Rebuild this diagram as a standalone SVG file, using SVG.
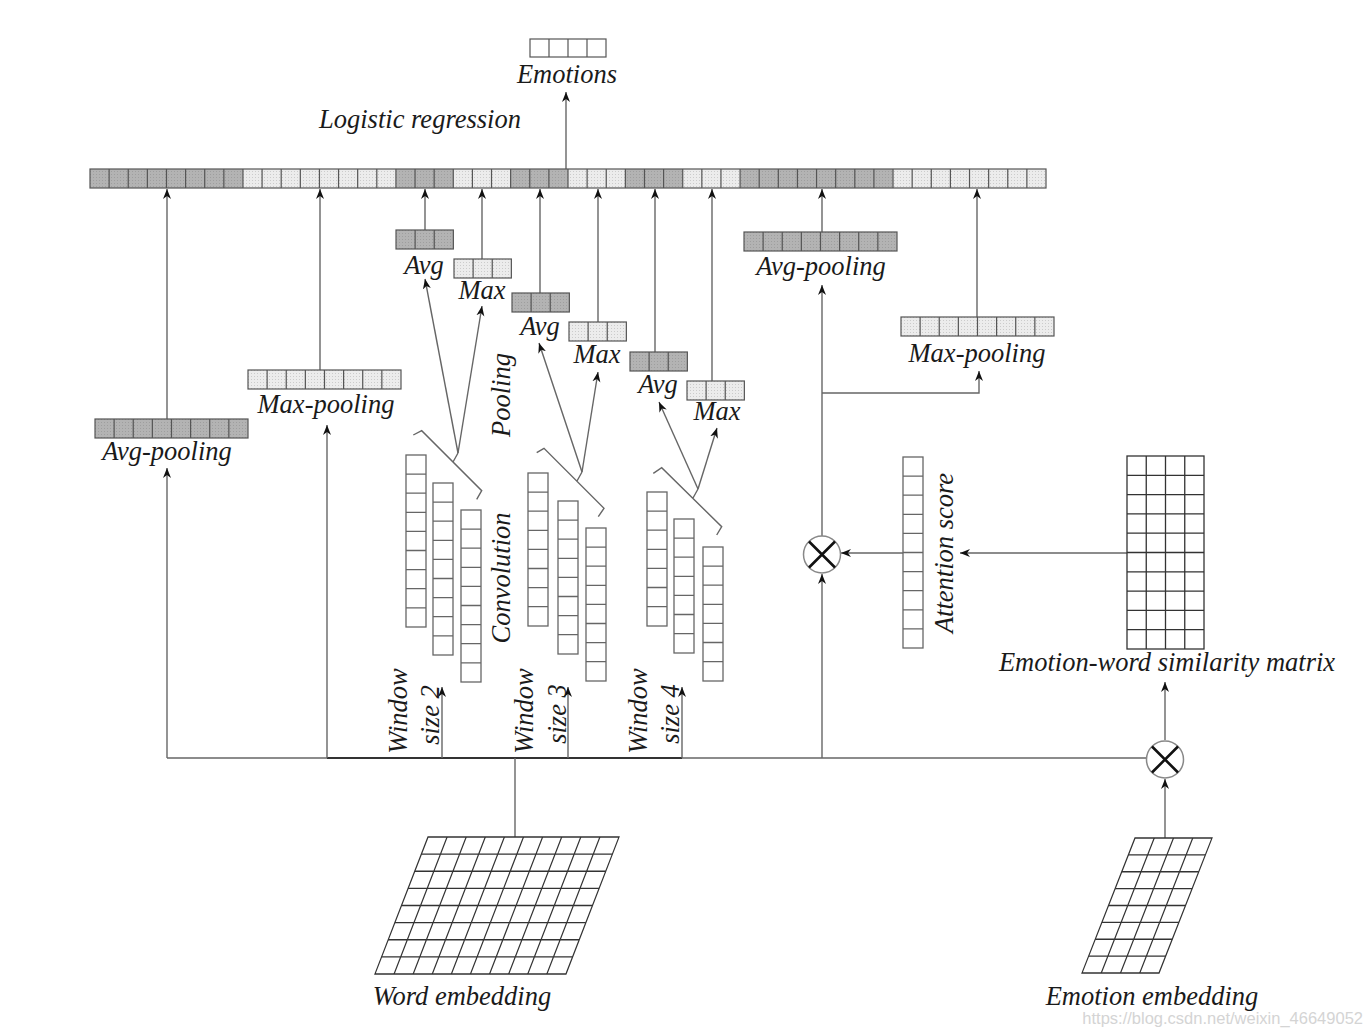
<svg xmlns="http://www.w3.org/2000/svg" xmlns:xlink="http://www.w3.org/1999/xlink" width="1372" height="1034" viewBox="0 0 1372 1034">
<style>
.t{font-family:"Liberation Serif","Times New Roman",serif;font-style:italic;font-size:26.5px;fill:#1a1a1a;text-anchor:middle}
.cell{stroke:#555;stroke-width:1.2}
.div{stroke:#555;stroke-width:1.2;fill:none}
.col{fill:#fff;stroke:#666;stroke-width:1.3}
.cdiv{stroke:#666;stroke-width:1.3;fill:none}
.grid{fill:none;stroke:#333;stroke-width:1.3}
.ln{fill:none;stroke:#666;stroke-width:1.4}
.ar{fill:none;stroke:#666;stroke-width:1.4;marker-end:url(#ah)}
.wm{font-family:"Liberation Sans",Arial,sans-serif;font-size:16.5px;fill:#d4d4d4;text-anchor:end}
</style>
<defs>
<marker id="ah" viewBox="0 0 10 10" refX="10" refY="5" markerWidth="10" markerHeight="10" markerUnits="userSpaceOnUse" orient="auto"><path d="M0,1 L10,5 L0,9 L3,5 z" fill="#111"/></marker>
<pattern id="pdark" width="3" height="3" patternUnits="userSpaceOnUse"><rect width="3" height="3" fill="#b3b3b3"/><rect width="1" height="1" fill="#9e9e9e"/></pattern>
<pattern id="plight" width="3" height="3" patternUnits="userSpaceOnUse"><rect width="3" height="3" fill="#ececec"/><rect width="1" height="1" fill="#cbcbcb"/></pattern>
<g id="b8d"><rect width="153" height="19" fill="url(#pdark)" class="cell"/><path class="div" d="M19.12,0v19M38.24,0v19M57.36,0v19M76.48,0v19M95.6,0v19M114.72,0v19M133.84,0v19"/></g>
<g id="b8l"><rect width="153" height="19" fill="url(#plight)" class="cell"/><path class="div" d="M19.12,0v19M38.24,0v19M57.36,0v19M76.48,0v19M95.6,0v19M114.72,0v19M133.84,0v19"/></g>
<g id="b3d"><rect width="57.36" height="19" fill="url(#pdark)" class="cell"/><path class="div" d="M19.12,0v19M38.24,0v19"/></g>
<g id="b3l"><rect width="57.36" height="19" fill="url(#plight)" class="cell"/><path class="div" d="M19.12,0v19M38.24,0v19"/></g>
<g id="c9"><rect width="20" height="172" class="col"/><path class="cdiv" d="M0,19.1h20M0,38.2h20M0,57.3h20M0,76.4h20M0,95.5h20M0,114.6h20M0,133.7h20M0,152.8h20"/></g>
<g id="c8"><rect width="20" height="153" class="col"/><path class="cdiv" d="M0,19.1h20M0,38.2h20M0,57.3h20M0,76.4h20M0,95.5h20M0,114.6h20M0,133.7h20"/></g>
<g id="c7"><rect width="20" height="134" class="col"/><path class="cdiv" d="M0,19.1h20M0,38.2h20M0,57.3h20M0,76.4h20M0,95.5h20M0,114.6h20"/></g>
<g id="c10"><rect width="20" height="191" class="col"/><path class="cdiv" d="M0,19.1h20M0,38.2h20M0,57.3h20M0,76.4h20M0,95.5h20M0,114.6h20M0,133.7h20M0,152.8h20M0,171.9h20"/></g>
</defs>
<rect width="1372" height="1034" fill="#fff"/>

<g id="connectors">
<path class="ar" d="M566,169V92"/>
<path class="ar" d="M167,419V189"/>
<path class="ar" d="M320,370V189"/>
<path class="ar" d="M425,230V189"/>
<path class="ar" d="M482,259V189"/>
<path class="ar" d="M540,293V189"/>
<path class="ar" d="M598,322V189"/>
<path class="ar" d="M655,352V189"/>
<path class="ar" d="M712,381V189"/>
<path class="ar" d="M822,232V189"/>
<path class="ar" d="M977,317V189"/>
<path class="ln" d="M167,758H1146"/>
<path d="M327,758H682" stroke="#333" stroke-width="2" fill="none"/>
<path class="ln" d="M515,758V837"/>
<path class="ar" d="M167,758V468"/>
<path class="ar" d="M327,758V425"/>
<path class="ar" d="M442,758V687"/>
<path class="ar" d="M568,758V687"/>
<path class="ar" d="M682,758V687"/>
<path class="ar" d="M822,758V574"/>
<path class="ar" d="M822,536V285"/>
<path class="ar" d="M822,393H979V371"/>
<path class="ar" d="M903,553H841"/>
<path class="ar" d="M1127,553H960"/>
<path class="ar" d="M1165,838V779"/>
<path class="ar" d="M1165,740V682"/>
<path class="ln" d="M413.3,435L421.7,430.7L481.7,490.7L476.7,499.3M453,462L458,453"/>
<path class="ln" d="M536.7,452.7L544,448.3L604,508.3L598.3,516.7M577,481L582,472"/>
<path class="ln" d="M653.3,473.3L661.7,467.7L721.7,526.7L716.7,535M693,498L698,489"/>
<path class="ar" d="M458,453L425,279"/>
<path class="ar" d="M458,453L482,306"/>
<path class="ar" d="M582,472L539,343"/>
<path class="ar" d="M582,472L598,372"/>
<path class="ar" d="M698,489L659,402"/>
<path class="ar" d="M698,489L717,428"/>
</g>

<g id="emotions">
<rect x="530" y="39" width="76" height="18" fill="#fff" class="cell"/>
<path class="div" d="M549,39v18M568,39v18M587,39v18"/>
<text class="t" x="567" y="83">Emotions</text>
</g>

<g id="logistic-regression">
<text class="t" x="420" y="128">Logistic regression</text>
</g>

<g id="concat-bar">
<rect x="90" y="169" width="152.96" height="19" fill="url(#pdark)"/>
<rect x="242.96" y="169" width="152.96" height="19" fill="url(#plight)"/>
<rect x="395.92" y="169" width="57.36" height="19" fill="url(#pdark)"/>
<rect x="453.28" y="169" width="57.36" height="19" fill="url(#plight)"/>
<rect x="510.64" y="169" width="57.36" height="19" fill="url(#pdark)"/>
<rect x="568" y="169" width="57.36" height="19" fill="url(#plight)"/>
<rect x="625.36" y="169" width="57.36" height="19" fill="url(#pdark)"/>
<rect x="682.72" y="169" width="57.36" height="19" fill="url(#plight)"/>
<rect x="740.08" y="169" width="152.96" height="19" fill="url(#pdark)"/>
<rect x="893.04" y="169" width="152.96" height="19" fill="url(#plight)"/>
<rect x="90" y="169" width="956" height="19" fill="none" class="cell"/>
<path class="div" d="M109.12,169v19M128.24,169v19M147.36,169v19M166.48,169v19M185.6,169v19M204.72,169v19M223.84,169v19M242.96,169v19M262.08,169v19M281.2,169v19M300.32,169v19M319.44,169v19M338.56,169v19M357.68,169v19M376.8,169v19M395.92,169v19M415.04,169v19M434.16,169v19M453.28,169v19M472.4,169v19M491.52,169v19M510.64,169v19M529.76,169v19M548.88,169v19M568,169v19M587.12,169v19M606.24,169v19M625.36,169v19M644.48,169v19M663.6,169v19M682.72,169v19M701.84,169v19M720.96,169v19M740.08,169v19M759.2,169v19M778.32,169v19M797.44,169v19M816.56,169v19M835.68,169v19M854.8,169v19M873.92,169v19M893.04,169v19M912.16,169v19M931.28,169v19M950.4,169v19M969.52,169v19M988.64,169v19M1007.76,169v19M1026.88,169v19"/>
</g>

<g id="avg-pooling-left"><use xlink:href="#b8d" x="95" y="419"/><text class="t" x="167" y="460">Avg-pooling</text></g>
<g id="max-pooling-left"><use xlink:href="#b8l" x="248" y="370"/><text class="t" x="326" y="413">Max-pooling</text></g>
<g id="avg-w2"><use xlink:href="#b3d" x="396" y="230"/><text class="t" x="424" y="274">Avg</text></g>
<g id="max-w2"><use xlink:href="#b3l" x="454" y="259"/><text class="t" x="482" y="299">Max</text></g>
<g id="avg-w3"><use xlink:href="#b3d" x="512" y="293"/><text class="t" x="540" y="335">Avg</text></g>
<g id="max-w3"><use xlink:href="#b3l" x="569" y="322"/><text class="t" x="597" y="363">Max</text></g>
<g id="avg-w4"><use xlink:href="#b3d" x="630" y="352"/><text class="t" x="658" y="393">Avg</text></g>
<g id="max-w4"><use xlink:href="#b3l" x="687" y="381"/><text class="t" x="717" y="420">Max</text></g>
<g id="avg-pooling-right"><use xlink:href="#b8d" x="744" y="232"/><text class="t" x="821" y="275">Avg-pooling</text></g>
<g id="max-pooling-right"><use xlink:href="#b8l" x="901" y="317"/><text class="t" x="977" y="362">Max-pooling</text></g>

<g id="pooling-label"><text class="t" transform="translate(510,395) rotate(-90)">Pooling</text></g>
<g id="convolution-label"><text class="t" transform="translate(510,578) rotate(-90)">Convolution</text></g>

<g id="conv-w2"><use xlink:href="#c9" x="406" y="455"/><use xlink:href="#c9" x="433" y="483"/><use xlink:href="#c9" x="461" y="510"/></g>
<g id="conv-w3"><use xlink:href="#c8" x="528" y="473"/><use xlink:href="#c8" x="558" y="501"/><use xlink:href="#c8" x="586" y="528"/></g>
<g id="conv-w4"><use xlink:href="#c7" x="647" y="492"/><use xlink:href="#c7" x="674" y="519"/><use xlink:href="#c7" x="703" y="547"/></g>

<g id="window-2"><text class="t" transform="translate(407,711) rotate(-90)">Window</text><text class="t" transform="translate(439,715) rotate(-90)">size 2</text></g>
<g id="window-3"><text class="t" transform="translate(533,711) rotate(-90)">Window</text><text class="t" transform="translate(566,714) rotate(-90)">size 3</text></g>
<g id="window-4"><text class="t" transform="translate(647,711) rotate(-90)">Window</text><text class="t" transform="translate(679,714) rotate(-90)">size 4</text></g>

<g id="multiply-attention">
<circle cx="822" cy="554.5" r="18.5" fill="#fff" stroke="#888" stroke-width="1.5"/>
<path d="M809,541.5L835,567.5M835,541.5L809,567.5" stroke="#111" stroke-width="2.6"/>
</g>
<g id="multiply-emotion">
<circle cx="1165" cy="759.5" r="18.5" fill="#fff" stroke="#888" stroke-width="1.5"/>
<path d="M1152,746.5L1178,772.5M1178,746.5L1152,772.5" stroke="#111" stroke-width="2.6"/>
</g>

<g id="attention-score"><use xlink:href="#c10" x="903" y="457"/><text class="t" transform="translate(953,553) rotate(-90)">Attention score</text></g>

<g id="similarity-matrix">
<rect x="1127" y="456" width="77" height="193" fill="#fff" class="grid"/>
<path class="grid" d="M1146.25,456v193M1165.5,456v193M1184.75,456v193M1127,475.3h77M1127,494.6h77M1127,513.9h77M1127,533.2h77M1127,552.5h77M1127,571.8h77M1127,591.1h77M1127,610.4h77M1127,629.7h77"/>
<text class="t" x="1167" y="671">Emotion-word similarity matrix</text>
</g>

<g id="word-embedding">
<g transform="translate(428,837) skewX(-21.16)">
<rect width="191" height="137" fill="#fff" class="grid"/>
<path class="grid" d="M19.1,0v137M38.2,0v137M57.3,0v137M76.4,0v137M95.5,0v137M114.6,0v137M133.7,0v137M152.8,0v137M171.9,0v137M0,17.125h191M0,34.25h191M0,51.375h191M0,68.5h191M0,85.625h191M0,102.75h191M0,119.875h191"/>
</g>
<text class="t" x="462" y="1005">Word embedding</text>
</g>

<g id="emotion-embedding">
<g transform="translate(1135,838) skewX(-21.43)">
<rect width="77" height="135" fill="#fff" class="grid"/>
<path class="grid" d="M19.25,0v135M38.5,0v135M57.75,0v135M0,16.875h77M0,33.75h77M0,50.625h77M0,67.5h77M0,84.375h77M0,101.25h77M0,118.125h77"/>
</g>
<text class="t" x="1152" y="1005">Emotion embedding</text>
</g>

<g id="watermark"><text class="wm" x="1363" y="1024">https://blog.csdn.net/weixin_46649052</text></g>
</svg>
